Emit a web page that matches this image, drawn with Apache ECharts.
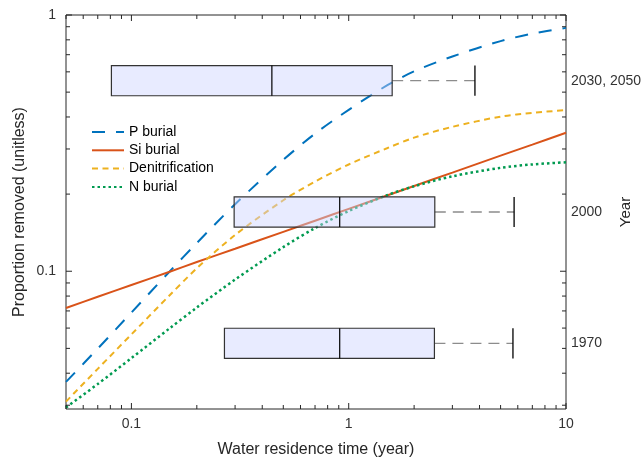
<!DOCTYPE html>
<html lang="en">
<head>
<meta charset="UTF-8">
<title>Proportion removed vs water residence time</title>
<script src="https://cdn.jsdelivr.net/npm/echarts@6/dist/echarts.min.js"></script>
<style>html,body{margin:0;padding:0;background:#fff}</style>
</head>
<body>
<div id="chart" style="width:644px;height:458px;"></div>
<script>
// residence time (year) at which the curves were read
const residenceTime = [0.05, 0.07, 0.1, 0.15, 0.2, 0.3, 0.5, 0.7, 1, 1.5, 2, 3, 5, 7, 10];
const pBurial = [0.037, 0.0499, 0.069, 0.0998, 0.1289, 0.1827, 0.2721, 0.3443, 0.4266, 0.531, 0.6028, 0.689, 0.7909, 0.8459, 0.8908];
const siBurial = [0.0719, 0.0795, 0.0884, 0.0996, 0.1086, 0.1224, 0.1425, 0.1575, 0.1751, 0.1974, 0.2151, 0.2426, 0.2826, 0.312, 0.347];
const denitrification = [0.031, 0.0416, 0.0567, 0.0806, 0.1027, 0.1385, 0.1892, 0.2239, 0.261, 0.302, 0.3322, 0.3661, 0.4013, 0.415, 0.4255];
const nBurial = [0.0294, 0.0363, 0.0458, 0.0599, 0.0722, 0.0928, 0.1242, 0.1474, 0.1718, 0.198, 0.2146, 0.2347, 0.2533, 0.2611, 0.2663];

// residence time spread per year: box low / median / high, whisker end
const years = ['1970', '2000', '2030, 2050'];
const boxLow = [0.268, 0.297, 0.0809];
const boxMedian = [0.909, 0.909, 0.443];
const boxHigh = [2.48, 2.49, 1.585];
const whiskerHigh = [5.70, 5.77, 3.81];

// axis ticks (log axes, ticks on all four sides)
const xTicks = [0.05, 0.06, 0.07, 0.08, 0.09, 0.1, 0.2, 0.3, 0.4, 0.5, 0.6, 0.7, 0.8, 0.9, 1, 2, 3, 4, 5, 6, 7, 8, 9, 10];
const yTicks = [0.03, 0.04, 0.05, 0.06, 0.07, 0.08, 0.09, 0.1, 0.2, 0.3, 0.4, 0.5, 0.6, 0.7, 0.8, 0.9, 1];
const xMajor = [0.1, 1, 10];
const yMajor = [0.1, 1];
const xMin = 0.05, xMax = 10, yMin = 0.029, yMax = 1;

const FONT = 'Liberation Sans, Arial, Helvetica, sans-serif';
const INK = '#262626';

function decadeLabel(v) {
  const e = Math.log10(v);
  if (Math.abs(e - Math.round(e)) > 1e-6) return '';
  return String(Math.pow(10, Math.round(e)));
}
function pairs(ys) { return residenceTime.map((x, i) => [x, ys[i]]); }
function isMajor(list, v) { return list.some(m => Math.abs(m - v) < 1e-9); }

let chart = echarts.init(document.getElementById('chart'));

let curves = [
  {name: 'P burial', data: pBurial, color: '#0072BD', type: [13, 11], width: 2},
  {name: 'Si burial', data: siBurial, color: '#D95319', type: 'solid', width: 2},
  {name: 'Denitrification', data: denitrification, color: '#EDB120', type: [6, 4.5], width: 2},
  {name: 'N burial', data: nBurial, color: '#009A50', type: [2.5, 3], width: 2.5}
].map(c => ({
  name: c.name,
  type: 'line',
  xAxisIndex: 0, yAxisIndex: 0,
  data: pairs(c.data),
  smooth: 0.3,
  symbol: 'none',
  z: 3,
  color: c.color,
  lineStyle: {color: c.color, width: c.width, type: c.type}
}));

let boxes = {
  type: 'custom',
  xAxisIndex: 0, yAxisIndex: 1,
  silent: true,
  z: 4,
  encode: {x: [1, 2, 3, 4], y: 0},
  data: years.map((y, i) => [i, boxLow[i], boxMedian[i], boxHigh[i], whiskerHigh[i]]),
  renderItem: function (params, api) {
    const cat = api.value(0);
    const lo = api.coord([api.value(1), cat]);
    const md = api.coord([api.value(2), cat]);
    const hi = api.coord([api.value(3), cat]);
    const we = api.coord([api.value(4), cat]);
    const h = api.size([0, 1], [api.value(1), cat])[1] * 0.23;
    return {
      type: 'group',
      children: [
        {type: 'line', shape: {x1: hi[0], y1: hi[1], x2: we[0], y2: we[1]},
         style: {stroke: '#8c8c8c', lineWidth: 1.3, lineDash: [11, 7]}},
        {type: 'line', shape: {x1: we[0], y1: we[1] - h / 2, x2: we[0], y2: we[1] + h / 2},
         style: {stroke: '#000', lineWidth: 1.3}},
        {type: 'rect', shape: {x: lo[0], y: lo[1] - h / 2, width: hi[0] - lo[0], height: h},
         style: {fill: 'rgba(204,210,255,0.45)', stroke: '#333', lineWidth: 1.2}},
        {type: 'line', shape: {x1: md[0], y1: md[1] - h / 2, x2: md[0], y2: md[1] + h / 2},
         style: {stroke: '#000', lineWidth: 1.2}}
      ]
    };
  }
};

let ticks = {
  type: 'custom',
  xAxisIndex: 0, yAxisIndex: 0,
  silent: true,
  z: 6,
  data: [[1, 0.1]],
  renderItem: function (params, api) {
    const kids = [];
    const st = {stroke: INK, lineWidth: 1};
    xTicks.forEach(t => {
      const len = isMajor(xMajor, t) ? 6 : 4;
      const b = api.coord([t, yMin]), tp = api.coord([t, yMax]);
      kids.push({type: 'line', shape: {x1: b[0], y1: b[1], x2: b[0], y2: b[1] - len}, style: st});
      kids.push({type: 'line', shape: {x1: tp[0], y1: tp[1], x2: tp[0], y2: tp[1] + len}, style: st});
    });
    yTicks.forEach(t => {
      const len = isMajor(yMajor, t) ? 6 : 4;
      const l = api.coord([xMin, t]), r = api.coord([xMax, t]);
      kids.push({type: 'line', shape: {x1: l[0], y1: l[1], x2: l[0] + len, y2: l[1]}, style: st});
      kids.push({type: 'line', shape: {x1: r[0], y1: r[1], x2: r[0] - len, y2: r[1]}, style: st});
    });
    return {type: 'group', children: kids};
  }
};

chart.setOption({
  animation: false,
  textStyle: {fontFamily: FONT},
  grid: {left: 66, right: 78, top: 15, bottom: 49, outerBoundsMode: 'none', show: true, borderColor: INK, borderWidth: 1},
  legend: {
    data: curves.map(c => c.name),
    orient: 'vertical',
    left: 91, top: 125,
    padding: 0,
    itemWidth: 32, itemHeight: 14, itemGap: 4.3,
    itemStyle: {opacity: 0},
    textStyle: {fontFamily: FONT, fontSize: 14, color: '#000', lineHeight: 14}
  },
  xAxis: [{
    type: 'log', min: xMin, max: xMax,
    splitLine: {show: false}, axisTick: {show: false}, axisLine: {show: false},
    axisLabel: {formatter: decadeLabel, color: '#333', fontSize: 14, margin: 8, fontFamily: FONT},
    name: 'Water residence time (year)', nameLocation: 'middle', nameGap: 33, nameMoveOverlap: false,
    nameTextStyle: {fontSize: 16, color: INK, fontFamily: FONT}
  }],
  yAxis: [{
    type: 'log', min: yMin, max: yMax,
    splitLine: {show: false}, axisTick: {show: false}, axisLine: {show: false},
    axisLabel: {formatter: decadeLabel, color: '#333', fontSize: 14, margin: 10, fontFamily: FONT},
    name: 'Proportion removed (unitless)', nameLocation: 'middle', nameGap: 38, nameRotate: 90, nameMoveOverlap: false,
    nameTextStyle: {fontSize: 16, color: INK, fontFamily: FONT}
  }, {
    type: 'category', data: years, position: 'right',
    axisTick: {show: false}, axisLine: {show: false}, splitLine: {show: false},
    axisLabel: {color: '#333', fontSize: 14, margin: 5, fontFamily: FONT},
    name: 'Year', nameLocation: 'middle', nameGap: 52, nameRotate: 90, nameMoveOverlap: false,
    nameTextStyle: {fontSize: 15, color: INK, fontFamily: FONT}
  }],
  series: curves.concat([boxes, ticks])
});
</script>
</body>
</html>
